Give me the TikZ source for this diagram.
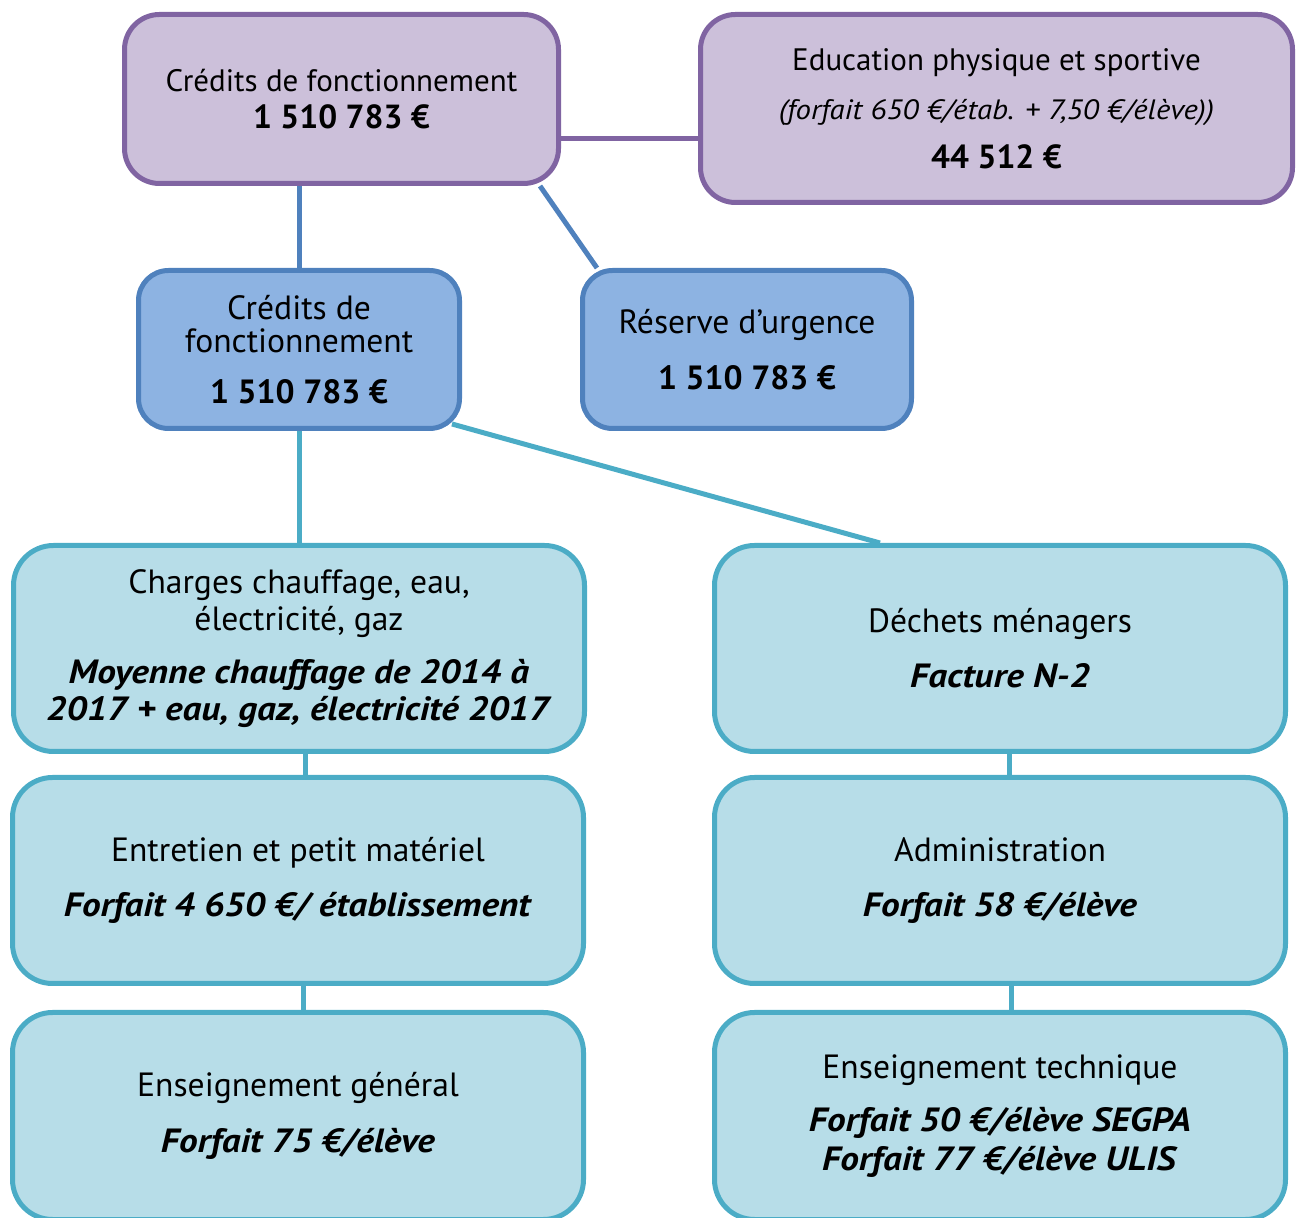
\documentclass[tikz,border=0pt]{standalone}
\usepackage{fontspec}
\setmainfont{PT Sans}[ItalicFeatures={FakeStretch=1.1},BoldItalicFeatures={FakeStretch=1.11}]
\usetikzlibrary{backgrounds}
\definecolor{pfill}{HTML}{CCC0DA}
\definecolor{pdraw}{HTML}{8064A2}
\definecolor{bfill}{HTML}{8DB3E2}
\definecolor{bdraw}{HTML}{4F81BD}
\definecolor{tfill}{HTML}{B7DDE8}
\definecolor{tdraw}{HTML}{4BACC6}
\newcommand\bixt[1]{\textbf{\textit{#1}}}
\newcommand\bignum[1]{{\fontsize{16.7}{18.5}\selectfont\textbf{#1}}}
\begin{document}
\begin{tikzpicture}[x=0.5pt,y=-0.5pt,
  basebox/.style={rectangle, line width=2.5pt, align=center, inner sep=0pt,
    font=\fontsize{16.8}{18.5}\selectfont},
  pbox/.style={basebox, fill=pfill, draw=pdraw, rounded corners=17.5pt,
    font=\fontsize{15.5}{18.5}\selectfont},
  bbox/.style={basebox, fill=bfill, draw=bdraw, rounded corners=15pt},
  tbox/.style={basebox, fill=tfill, draw=tdraw, rounded corners=20pt,
    minimum width=285.5pt, minimum height=103pt},
  pline/.style={draw=pdraw, line width=2.5pt},
  bline/.style={draw=bdraw, line width=2.5pt},
  tline/.style={draw=tdraw, line width=2.5pt}]
\useasboundingbox (0,0) rectangle (1297,1218);

\node[pbox, minimum width=217pt, minimum height=84.5pt] (p1) at (341.5,99)
  {Crédits de fonctionnement\\\bignum{1 510 783 €}};
\node[pbox, minimum width=296pt, minimum height=94pt] (p2) at (996.5,108.5)
  {Education physique et sportive\\[6pt]
   {\fontsize{14}{15}\selectfont\itshape (forfait 650 €/étab. + 7,50 €/élève))}\\[6pt]
   \bignum{44 512 €}};

\node[bbox, minimum width=160.5pt, minimum height=79pt] (b1) at (299,349.5)
  {Crédits de\\[-2pt]fonctionnement\\[7pt]\textbf{1 510 783 €}};
\node[bbox, minimum width=164.5pt, minimum height=79pt] (b2) at (747,349.5)
  {Réserve d’urgence\\[9.5pt]\textbf{1 510 783 €}};

\node[tbox] (t1) at (299,648.5)
  {Charges chauffage, eau,\\électricité, gaz\\[8pt]
   \bixt{Moyenne chauffage de 2014 à}\\\bixt{2017 + eau, gaz, électricité 2017}};
\node[tbox] (t2) at (1000,648.5)
  {Déchets ménagers\\[9pt]\bixt{Facture N-2}};
\node[tbox] (t3) at (298,880.5)
  {Entretien et petit matériel\\[9pt]\bixt{Forfait 4 650 €/ établissement}};
\node[tbox] (t4) at (1000,880.5)
  {Administration\\[9pt]\bixt{Forfait 58 €/élève}};
\node[tbox, minimum height=103.5pt] (t5) at (298,1116)
  {Enseignement général\\[9.5pt]\bixt{Forfait 75 €/élève}};
\node[tbox, minimum height=103.5pt] (t6) at (1000,1116)
  {Enseignement technique\\[8pt]\bixt{Forfait 50 €/élève SEGPA}\\[1pt]\bixt{Forfait 77 €/élève ULIS}};

\begin{scope}[on background layer]
  \draw[pline] (p1.east |- 0,139) -- (p2.west |- 0,139);
  \draw[bline] (b1.north |- p1.south) -- (b1.north);
  \draw[bline] ([xshift=-10.5pt]p1.south east) -- ([xshift=8.5pt]b2.north west);
  \draw[tline] (b1.south) -- (t1.north);
  \draw[tline] ([xshift=-5pt,yshift=3.5pt]b1.south east) -- ([xshift=-60pt]t2.north);
  \draw[tline] ([xshift=3pt]t1.south) -- ([xshift=3pt]t1.south |- t3.north);
  \draw[tline] ([xshift=2.5pt]t3.south) -- ([xshift=2.5pt]t3.south |- t5.north);
  \draw[tline] ([xshift=4.5pt]t2.south) -- ([xshift=4.5pt]t2.south |- t4.north);
  \draw[tline] ([xshift=5.5pt]t4.south) -- ([xshift=5.5pt]t4.south |- t6.north);
\end{scope}
\end{tikzpicture}
\end{document}
